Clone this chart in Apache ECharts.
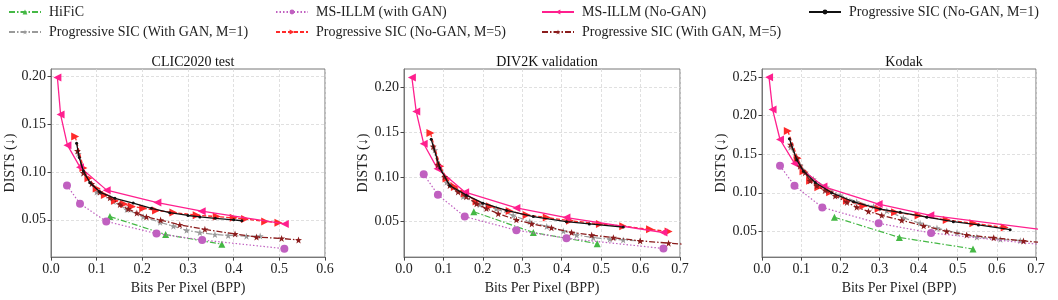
<!DOCTYPE html>
<html><head><meta charset="utf-8">
<script src="https://cdn.jsdelivr.net/npm/echarts@6/dist/echarts.min.js"></script>
<style>html,body{margin:0;padding:0;background:#fff}#c{width:1058px;height:300px}</style>
</head><body><div id="c"></div>
<script>
// ---- names ----
const seriesNames = ['HiFiC','Progressive SIC (With GAN, M=1)','MS-ILLM (with GAN)','Progressive SIC (No-GAN, M=5)','MS-ILLM (No-GAN)','Progressive SIC (With GAN, M=5)','Progressive SIC (No-GAN, M=1)'];
const panelTitles = ['CLIC2020 test','DIV2K validation','Kodak'];

// ---- CLIC2020 test ----
const clic_hific = [[0.129,0.0534],[0.251,0.0346],[0.374,0.0245]];
const clic_sicGan1 = [[0.060,0.119],[0.071,0.0987],[0.100,0.079],[0.137,0.069],[0.166,0.0607],[0.202,0.0533],[0.239,0.0473],[0.268,0.0433],[0.297,0.039],[0.326,0.0366],[0.359,0.0346],[0.388,0.0336],[0.428,0.0329],[0.458,0.033]];
const clic_illmGan = [[0.035,0.0859],[0.0635,0.0668],[0.121,0.0483],[0.231,0.0356],[0.331,0.0289],[0.511,0.0198]];
const clic_sicNoGan5 = [[0.053,0.137],[0.071,0.104],[0.082,0.0933],[0.100,0.0826],[0.118,0.0758],[0.140,0.070],[0.160,0.0664],[0.177,0.064],[0.202,0.062],[0.230,0.0597],[0.268,0.0577],[0.319,0.0547],[0.363,0.0534],[0.400,0.052],[0.425,0.0507],[0.469,0.0483],[0.498,0.047]];
const clic_illmNoGan = [[0.014,0.1987],[0.021,0.160],[0.036,0.128],[0.0635,0.105],[0.122,0.081],[0.233,0.068],[0.330,0.059],[0.512,0.0457]];
const clic_sicGan5 = [[0.058,0.122],[0.071,0.099],[0.089,0.0876],[0.107,0.079],[0.129,0.073],[0.151,0.066],[0.169,0.0614],[0.188,0.057],[0.209,0.053],[0.240,0.0497],[0.282,0.0447],[0.337,0.040],[0.403,0.0352],[0.450,0.0319],[0.505,0.0305],[0.542,0.0289]];
const clic_sicNoGan1 = [[0.056,0.130],[0.062,0.115],[0.071,0.101],[0.085,0.089],[0.107,0.079],[0.140,0.0725],[0.180,0.0675],[0.220,0.062],[0.260,0.0574],[0.300,0.0545],[0.326,0.053],[0.360,0.0515],[0.400,0.050],[0.418,0.049]];

// ---- DIV2K validation ----
const div_hific = [[0.177,0.0611],[0.328,0.0379],[0.490,0.0254]];
const div_sicGan1 = [[0.078,0.130],[0.108,0.094],[0.150,0.078],[0.192,0.069],[0.234,0.0643],[0.277,0.057],[0.319,0.050],[0.362,0.0446],[0.404,0.0396],[0.438,0.035],[0.480,0.0321],[0.522,0.0304],[0.556,0.0296],[0.599,0.0286]];
const div_illmGan = [[0.050,0.1029],[0.086,0.080],[0.154,0.0557],[0.285,0.0404],[0.412,0.0314],[0.658,0.020]];
const div_sicNoGan5 = [[0.067,0.149],[0.092,0.1118],[0.108,0.0982],[0.129,0.0886],[0.154,0.0814],[0.184,0.0725],[0.218,0.0671],[0.268,0.0618],[0.311,0.0575],[0.362,0.0546],[0.421,0.0511],[0.497,0.0475],[0.556,0.045],[0.624,0.0414],[0.671,0.0389]];
const div_illmNoGan = [[0.020,0.211],[0.031,0.173],[0.050,0.137],[0.085,0.109],[0.155,0.083],[0.285,0.0654],[0.412,0.0546],[0.658,0.0379]];
const div_sicGan5 = [[0.074,0.134],[0.086,0.1136],[0.103,0.100],[0.116,0.0904],[0.137,0.0832],[0.158,0.0779],[0.184,0.070],[0.209,0.0646],[0.239,0.0589],[0.285,0.0521],[0.324,0.0475],[0.374,0.0432],[0.425,0.0379],[0.476,0.035],[0.531,0.0321],[0.599,0.0286],[0.671,0.026],[0.750,0.0235]];
const div_sicNoGan1 = [[0.069,0.142],[0.091,0.110],[0.116,0.0904],[0.158,0.0796],[0.200,0.0707],[0.260,0.0625],[0.328,0.0557],[0.412,0.050],[0.470,0.0475],[0.556,0.0439]];

// ---- Kodak ----
const kod_hific = [[0.185,0.0683],[0.351,0.0421],[0.539,0.0271]];
const kod_sicGan1 = [[0.073,0.159],[0.097,0.136],[0.131,0.1175],[0.165,0.107],[0.200,0.0967],[0.242,0.0883],[0.285,0.0821],[0.319,0.0767],[0.361,0.0675],[0.404,0.0604],[0.447,0.0542],[0.498,0.048],[0.549,0.0425],[0.609,0.0396],[0.660,0.0379]];
const kod_illmGan = [[0.046,0.135],[0.083,0.1092],[0.154,0.081],[0.298,0.0604],[0.432,0.0479],[0.750,0.0308]];
const kod_sicNoGan5 = [[0.066,0.180],[0.091,0.1446],[0.106,0.128],[0.123,0.1154],[0.144,0.107],[0.174,0.1008],[0.217,0.0896],[0.259,0.0833],[0.298,0.0792],[0.340,0.0746],[0.400,0.0704],[0.472,0.0646],[0.540,0.0604],[0.620,0.055]];
const kod_illmNoGan = [[0.018,0.2496],[0.027,0.208],[0.046,0.169],[0.083,0.138],[0.157,0.108],[0.298,0.0854],[0.430,0.0708],[0.780,0.048]];
const kod_sicGan5 = [[0.073,0.1625],[0.089,0.1446],[0.097,0.1342],[0.110,0.126],[0.123,0.1154],[0.140,0.109],[0.161,0.103],[0.187,0.0958],[0.217,0.0875],[0.242,0.0813],[0.272,0.0758],[0.306,0.0708],[0.357,0.0642],[0.413,0.0571],[0.472,0.050],[0.523,0.0454],[0.592,0.0417],[0.668,0.0375],[0.780,0.033]];
const kod_sicNoGan1 = [[0.070,0.170],[0.089,0.1425],[0.106,0.128],[0.136,0.1133],[0.178,0.100],[0.234,0.0883],[0.302,0.0788],[0.353,0.0746],[0.421,0.0683],[0.489,0.0625],[0.553,0.0583],[0.634,0.0521]];

// ---- axes ----
const xMax = [0.6, 0.7, 0.7];
const yMin = [0.0110, 0.0104, 0.0166];
const yMax = [0.2076, 0.2206, 0.2604];
const yTicks = [[0.05,0.10,0.15,0.20],[0.05,0.10,0.15,0.20],[0.05,0.10,0.15,0.20,0.25]];

const panels = [
  [clic_hific, clic_sicGan1, clic_illmGan, clic_sicNoGan5, clic_illmNoGan, clic_sicGan5, clic_sicNoGan1],
  [div_hific, div_sicGan1, div_illmGan, div_sicNoGan5, div_illmNoGan, div_sicGan5, div_sicNoGan1],
  [kod_hific, kod_sicGan1, kod_illmGan, kod_sicNoGan5, kod_illmNoGan, kod_sicGan5, kod_sicNoGan1]
];

const FONT = 'Liberation Serif';
const star = 'path://M0,-10 L2.35,-3.24 9.51,-3.09 3.8,1.24 5.88,8.09 0,4 -5.88,8.09 -3.8,1.24 -9.51,-3.09 -2.35,-3.24 Z';
const styles = [
  {color:'#45b845', type:[6,2,1.5,2], symbol:'triangle', size:7, rot:0, width:1.2},
  {color:'#9a9a9a', type:[6,2,1.5,2], symbol:star, size:7, rot:0, width:1.2},
  {color:'#c060c0', type:[1.5,2], symbol:'circle', size:8, rot:0, width:1.2},
  {color:'#ff2a2a', type:[4,2], symbol:'triangle', size:8, rot:-90, width:1.3},
  {color:'#ff1f8e', type:'solid', symbol:'triangle', size:8, rot:90, width:1.3},
  {color:'#8b1c1c', type:[6,2,1.5,2], symbol:star, size:7, rot:0, width:1.3},
  {color:'#111111', type:'solid', symbol:'circle', size:3, rot:0, width:1.3}
];

const grids = [
  {left:51, top:69, width:274, height:195},
  {left:404, top:69, width:276, height:195},
  {left:762, top:69, width:274, height:195}
];

const option = {
  animation:false,
  textStyle:{fontFamily:FONT},
  title: panelTitles.map((t,i)=>({text:t, left:grids[i].left+grids[i].width/2, top:50, textAlign:'center',
    textStyle:{fontFamily:FONT, fontSize:14, fontWeight:'normal', color:'#111'}})),
  legend: [
    [0,1],[2,3],[4,5],[6]
  ].map((ids,c)=>({
    orient:'vertical', left:[8,275,541,808][c], top:5, padding:0, itemGap:6, itemWidth:32, itemHeight:6,
    data: ids.map(k=>seriesNames[k]),
    textStyle:{fontFamily:FONT, fontSize:14, color:'#222', padding:[0,0,0,3]}
  })),
  grid: grids.map(g=>Object.assign({show:true, borderColor:'#777', borderWidth:1, backgroundColor:'transparent'}, g)),
  xAxis: grids.map((g,i)=>({
    type:'value', gridIndex:i, min:0, max:xMax[i], interval:0.1,
    name:'Bits Per Pixel (BPP)', nameLocation:'middle', nameGap:20,
    nameTextStyle:{fontFamily:FONT, fontSize:14, color:'#222'},
    axisLine:{show:true, onZero:false, lineStyle:{color:'#777'}},
    axisTick:{show:true, length:3.5, lineStyle:{color:'#444'}},
    axisLabel:{fontFamily:FONT, fontSize:14, color:'#222', margin:5, formatter:v=>v.toFixed(1)},
    splitLine:{show:true, lineStyle:{color:'#d8d8d8', type:[3,2], width:0.8}}
  })),
  yAxis: grids.map((g,i)=>({
    type:'value', gridIndex:i, min:yMin[i], max:yMax[i],
    name:'DISTS (↓)', nameLocation:'middle', nameGap:33,
    nameTextStyle:{fontFamily:FONT, fontSize:14, color:'#222'},
    axisLine:{show:true, onZero:false, lineStyle:{color:'#777'}},
    axisTick:{show:true, length:3.5, lineStyle:{color:'#444'}, customValues:yTicks[i]},
    axisLabel:{fontFamily:FONT, fontSize:14, color:'#222', margin:5, customValues:yTicks[i], formatter:v=>v.toFixed(2)},
    splitLine:{show:true, lineStyle:{color:'#d8d8d8', type:[3,2], width:0.8}}
  })),
  series: []
};

panels.forEach((arr,p)=>{
  arr.forEach((data,k)=>{
    const s = styles[k];
    option.series.push({
      type:'line', name:seriesNames[k], xAxisIndex:p, yAxisIndex:p, data:data,
      symbol:s.symbol, symbolSize:s.size, symbolRotate:s.rot, showSymbol:true, clip:true,
      lineStyle:{color:s.color, type:s.type, width:s.width},
      itemStyle:{color:s.color, borderWidth:0},
      emphasis:{disabled:true}, z:2+k
    });
  });
});

const chart = echarts.init(document.getElementById('c'), null, {renderer:'canvas'});
chart.setOption(option);
</script></body></html>
